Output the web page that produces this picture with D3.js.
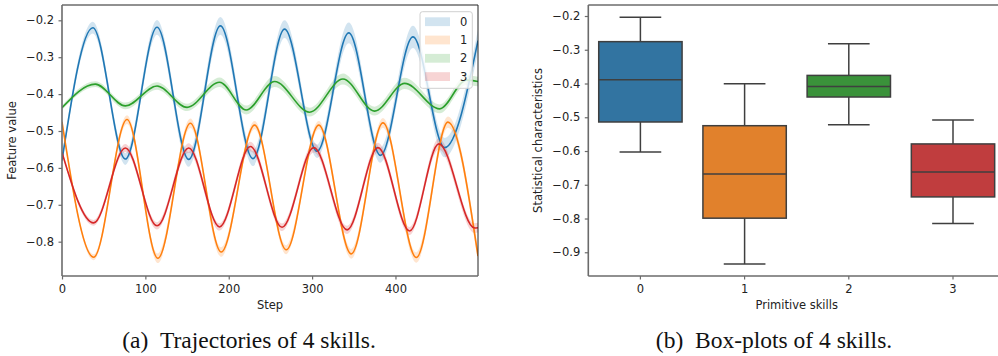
<!DOCTYPE html>
<html>
<head>
<meta charset="utf-8">
<script src="https://cdn.jsdelivr.net/npm/d3@7"></script>
<style>
  body { margin: 0; background: #fff; }
  svg { display: block; }
  text { font-family: "DejaVu Sans", sans-serif; }
</style>
</head>
<body>
<script>
// skill ids and colours
const skills = ["0", "1", "2", "3"]
const lineColors = ["#1f77b4", "#ff7f0e", "#2ca02c", "#d62728"]
const boxColors = ["#3274a1", "#e1812c", "#3a923a", "#c03d3e"]

// trajectories: key points (peaks / troughs)
const steps0 = [0, 37, 76, 114, 152, 190, 229, 267, 306, 344, 382, 421, 459, 499]
const vals0 = [-0.58, -0.22, -0.576, -0.219, -0.577, -0.215, -0.575, -0.224, -0.555, -0.234, -0.566, -0.245, -0.545, -0.255]
const std0 = [0.012, 0.016, 0.016, 0.02, 0.02, 0.024, 0.02, 0.024, 0.018, 0.028, 0.02, 0.03, 0.026, 0.03]

const steps1 = [0, 38, 78, 115, 154, 191, 231, 269, 308, 347, 385, 425, 463, 499]
const vals1 = [-0.475, -0.842, -0.469, -0.845, -0.479, -0.828, -0.484, -0.822, -0.484, -0.833, -0.478, -0.843, -0.476, -0.839]
const std1 = [0.008, 0.008, 0.012, 0.013, 0.013, 0.013, 0.011, 0.012, 0.011, 0.013, 0.013, 0.014, 0.015, 0.013]

const steps2 = [0, 40, 76, 114, 150, 189, 221, 255, 297, 337, 375, 411, 453, 485, 499]
const vals2 = [-0.437, -0.373, -0.432, -0.378, -0.436, -0.368, -0.443, -0.366, -0.449, -0.359, -0.446, -0.371, -0.44, -0.362, -0.366]
const std2 = [0.006, 0.008, 0.009, 0.01, 0.01, 0.013, 0.012, 0.015, 0.012, 0.015, 0.012, 0.015, 0.012, 0.013, 0.013]

const steps3 = [0, 38, 76, 114, 152, 189, 226, 264, 302, 342, 379, 417, 452, 495, 499]
const vals3 = [-0.558, -0.749, -0.546, -0.757, -0.546, -0.76, -0.542, -0.761, -0.545, -0.768, -0.545, -0.771, -0.535, -0.763, -0.762]
const std3 = [0.006, 0.008, 0.011, 0.01, 0.013, 0.01, 0.013, 0.01, 0.013, 0.011, 0.013, 0.011, 0.015, 0.013, 0.013]

// box plot statistics per skill
const whiskerHi = [-0.204, -0.401, -0.282, -0.508]
const q3 = [-0.276, -0.525, -0.376, -0.579]
const median = [-0.389, -0.668, -0.409, -0.662]
const q1 = [-0.514, -0.799, -0.44, -0.736]
const whiskerLo = [-0.603, -0.935, -0.522, -0.815]

const stepTicks = [0, 100, 200, 300, 400]
const featTicks = [-0.2, -0.3, -0.4, -0.5, -0.6, -0.7, -0.8]
const statTicks = [-0.2, -0.3, -0.4, -0.5, -0.6, -0.7, -0.8, -0.9]

const fontSize = 11.5
const fmt = d3.format(".1f")

let svg = d3.select("body").append("svg")
  .attr("width", 998)
  .attr("height", 356)

/* ---------- (a) trajectories ---------- */
let left = { x0: 62, x1: 478, y0: 5, y1: 276 }
let x = d3.scaleLinear().domain([0, 499]).range([left.x0, left.x1])
let y = d3.scaleLinear().domain([-0.893, -0.1585]).range([left.y1, left.y0])

svg.append("clipPath").attr("id", "clipA")
  .append("rect")
  .attr("x", left.x0).attr("y", left.y0)
  .attr("width", left.x1 - left.x0).attr("height", left.y1 - left.y0)

let series = [
  { steps: steps0, vals: vals0, std: std0 },
  { steps: steps1, vals: vals1, std: std1 },
  { steps: steps2, vals: vals2, std: std2 },
  { steps: steps3, vals: vals3, std: std3 }
].map(s => s.steps.map((st, i) => ({ step: st, v: s.vals[i], sd: s.std[i] })))

let plotA = svg.append("g").attr("clip-path", "url(#clipA)")

let band = d3.area()
  .x(d => x(d.step))
  .y0(d => y(d.v - d.sd))
  .y1(d => y(d.v + d.sd))
  .curve(d3.curveMonotoneX)

let line = d3.line()
  .x(d => x(d.step))
  .y(d => y(d.v))
  .curve(d3.curveMonotoneX)

plotA.selectAll(".band")
  .data(series)
  .enter()
  .append("path")
  .attr("class", "band")
  .attr("d", band)
  .attr("fill", (d, i) => lineColors[i])
  .attr("fill-opacity", 0.2)

plotA.selectAll(".line")
  .data(series)
  .enter()
  .append("path")
  .attr("class", "line")
  .attr("d", line)
  .attr("fill", "none")
  .attr("stroke", (d, i) => lineColors[i])
  .attr("stroke-width", 1.6)

// axes
let axA = svg.append("g")
axA.append("g")
  .attr("transform", `translate(0,${left.y1})`)
  .call(d3.axisBottom(x).tickValues(stepTicks).tickSize(3.5).tickPadding(5.5))
axA.append("g")
  .attr("transform", `translate(${left.x0},0)`)
  .call(d3.axisLeft(y).tickValues(featTicks).tickFormat(fmt).tickSize(3.5).tickPadding(4.5))

// spines
function spines(g, box, showRight) {
  g.append("line").attr("x1", box.x0).attr("x2", box.x1).attr("y1", box.y0).attr("y2", box.y0)
    .attr("stroke", "#222").attr("stroke-width", 1)
  if (showRight) {
    g.append("line").attr("x1", box.x1).attr("x2", box.x1).attr("y1", box.y0).attr("y2", box.y1)
      .attr("stroke", "#222").attr("stroke-width", 1)
  }
  g.append("line").attr("x1", box.x0).attr("x2", box.x0).attr("y1", box.y0).attr("y2", box.y1)
    .attr("stroke", "#6b6b6b").attr("stroke-width", 1.6)
  g.append("line").attr("x1", box.x0).attr("x2", box.x1).attr("y1", box.y1).attr("y2", box.y1)
    .attr("stroke", "#6b6b6b").attr("stroke-width", 1.6)
}
spines(axA, left, true)

axA.append("text")
  .attr("x", (left.x0 + left.x1) / 2)
  .attr("y", 309)
  .attr("text-anchor", "middle")
  .text("Step")
axA.append("text")
  .attr("transform", `translate(16,${(left.y0 + left.y1) / 2}) rotate(-90)`)
  .attr("text-anchor", "middle")
  .text("Feature value")

// legend
let legend = svg.append("g").attr("transform", "translate(420,11.7)")
legend.append("rect")
  .attr("width", 52.3).attr("height", 76.6).attr("rx", 2.5)
  .attr("fill", "#fff").attr("fill-opacity", 0.8)
  .attr("stroke", "#d0d0d0").attr("stroke-width", 1)
let item = legend.selectAll(".item")
  .data(skills)
  .enter()
  .append("g")
  .attr("class", "item")
  .attr("transform", (d, i) => `translate(0,${10 + i * 18.3})`)
item.append("rect")
  .attr("x", 5).attr("y", -4.4).attr("width", 25).attr("height", 8.8)
  .attr("fill", (d, i) => lineColors[i]).attr("fill-opacity", 0.2)
item.append("text")
  .attr("x", 40).attr("dy", "0.35em")
  .text(d => d)

/* ---------- (b) box plots ---------- */
let right = { x0: 588.3, x1: 1005.1, y0: 5, y1: 276 }
let xb = d3.scaleBand().domain(skills).range([right.x0, right.x1])
let yb = d3.scaleLinear().domain([-0.9703, -0.1674]).range([right.y1, right.y0])
let bw = xb.bandwidth()

let boxes = skills.map((s, i) => ({
  skill: s, hi: whiskerHi[i], q3: q3[i], med: median[i], q1: q1[i], lo: whiskerLo[i], color: boxColors[i]
}))

let plotB = svg.append("g")
let bx = plotB.selectAll(".box")
  .data(boxes)
  .enter()
  .append("g")
  .attr("class", "box")
  .attr("transform", d => `translate(${xb(d.skill) + bw / 2},0)`)

const edge = "#3f3f3f"
bx.append("line")
  .attr("y1", d => yb(d.hi)).attr("y2", d => yb(d.q3))
  .attr("stroke", edge).attr("stroke-width", 1.5)
bx.append("line")
  .attr("y1", d => yb(d.q1)).attr("y2", d => yb(d.lo))
  .attr("stroke", edge).attr("stroke-width", 1.5)
bx.append("line")
  .attr("x1", -bw * 0.2).attr("x2", bw * 0.2)
  .attr("y1", d => yb(d.hi)).attr("y2", d => yb(d.hi))
  .attr("stroke", edge).attr("stroke-width", 1.5)
bx.append("line")
  .attr("x1", -bw * 0.2).attr("x2", bw * 0.2)
  .attr("y1", d => yb(d.lo)).attr("y2", d => yb(d.lo))
  .attr("stroke", edge).attr("stroke-width", 1.5)
bx.append("rect")
  .attr("x", -bw * 0.4).attr("width", bw * 0.8)
  .attr("y", d => yb(d.q3)).attr("height", d => yb(d.q1) - yb(d.q3))
  .attr("fill", d => d.color)
  .attr("stroke", edge).attr("stroke-width", 1.5)
bx.append("line")
  .attr("x1", -bw * 0.4).attr("x2", bw * 0.4)
  .attr("y1", d => yb(d.med)).attr("y2", d => yb(d.med))
  .attr("stroke", edge).attr("stroke-width", 1.5)

let axB = svg.append("g")
axB.append("g")
  .attr("transform", `translate(0,${right.y1})`)
  .call(d3.axisBottom(xb).tickSize(3.5).tickPadding(5.5))
axB.append("g")
  .attr("transform", `translate(${right.x0},0)`)
  .call(d3.axisLeft(yb).tickValues(statTicks).tickFormat(fmt).tickSize(3.5).tickPadding(4.5))
spines(axB, right, false)

axB.append("text")
  .attr("x", (right.x0 + right.x1) / 2)
  .attr("y", 309)
  .attr("text-anchor", "middle")
  .text("Primitive skills")
axB.append("text")
  .attr("transform", `translate(542,${(right.y0 + right.y1) / 2}) rotate(-90)`)
  .attr("text-anchor", "middle")
  .text("Statistical characteristics")

// axis styling
svg.selectAll(".domain").remove()
svg.selectAll(".tick line").attr("stroke", "#6b6b6b").attr("stroke-width", 1.2)
svg.selectAll("text")
  .attr("font-size", fontSize)
  .attr("fill", "#222")
svg.selectAll(".tick text").attr("font-family", "DejaVu Sans, sans-serif")

/* ---------- captions ---------- */
svg.append("text")
  .attr("x", 249).attr("y", 348)
  .attr("text-anchor", "middle")
  .style("font-family", "Liberation Serif, serif")
  .attr("font-size", 23.5)
  .attr("fill", "#111")
  .text("(a)\u2002Trajectories of 4 skills.")
svg.append("text")
  .attr("x", 774).attr("y", 348)
  .attr("text-anchor", "middle")
  .style("font-family", "Liberation Serif, serif")
  .attr("font-size", 23.5)
  .attr("fill", "#111")
  .text("(b)\u2002Box-plots of 4 skills.")
</script>
</body>
</html>
